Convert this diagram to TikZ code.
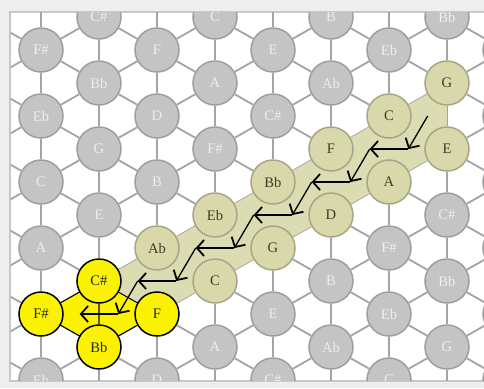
\documentclass[tikz,border=0pt]{standalone}
\usepackage{fontspec}
\setmainfont{Liberation Serif}
\usetikzlibrary{arrows.meta}

\definecolor{outerbg}{HTML}{EEEEEE}
\definecolor{frameline}{HTML}{C8C8C8}
\definecolor{latticeline}{HTML}{A4A4A4}
\definecolor{notefill}{HTML}{C4C4C4}
\definecolor{noteedge}{HTML}{9E9E9E}
\definecolor{notetext}{HTML}{EEEEEE}
\definecolor{chordfill}{HTML}{D8D8AA}
\definecolor{chordedge}{HTML}{A6A686}
\definecolor{chordtext}{HTML}{3C3C28}
\definecolor{bandfill}{HTML}{DCDCB3}
\definecolor{triadfill}{HTML}{FAF200}
\definecolor{triadline}{HTML}{5A5A20}

% pitch-class names, 0 = C
\newcommand\notename[1]{\ifcase#1 C\or C\#\or D\or Eb\or E\or F\or F\#\or G\or Ab\or A\or Bb\or B\fi}

% cells of the chord path and of the final triad
\expandafter\def\csname hl-7-2\endcsname{chord}
\expandafter\def\csname hl-6-3\endcsname{chord}
\expandafter\def\csname hl-7-4\endcsname{chord}
\expandafter\def\csname hl-5-4\endcsname{chord}
\expandafter\def\csname hl-6-5\endcsname{chord}
\expandafter\def\csname hl-4-5\endcsname{chord}
\expandafter\def\csname hl-5-6\endcsname{chord}
\expandafter\def\csname hl-3-6\endcsname{chord}
\expandafter\def\csname hl-4-7\endcsname{chord}
\expandafter\def\csname hl-2-7\endcsname{chord}
\expandafter\def\csname hl-3-8\endcsname{chord}
\expandafter\def\csname hl-1-8\endcsname{triad}
\expandafter\def\csname hl-0-9\endcsname{triad}
\expandafter\def\csname hl-2-9\endcsname{triad}
\expandafter\def\csname hl-1-10\endcsname{triad}

\pgfdeclarelayer{base}
\pgfdeclarelayer{edges}
\pgfdeclarelayer{band}
\pgfsetlayers{base,edges,band,main}

\tikzset{
  note/.style={circle, minimum size=22pt, inner sep=0pt, line width=0.75pt,
    font=\fontsize{7.3}{8}\selectfont},
  note-plain/.style={note, draw=noteedge, fill=notefill, text=notetext},
  note-chord/.style={note, draw=chordedge, fill=chordfill, text=chordtext},
  note-triad/.style={note, draw=black, fill=triadfill, text=black!85},
  lattice/.style={draw=latticeline, line width=0.9pt},
  move arrow/.style={draw=black, line width=0.65pt,
    -{Straight Barb[length=3.6pt,width=8pt,line width=0.9pt]}},
}

\begin{document}
\begin{tikzpicture}[x=0.5pt, y=-0.5pt]
\useasboundingbox (0,0) rectangle (484,388);

\begin{pgfonlayer}{base}
  \fill[outerbg] (0,0) rectangle (484,388);
  \draw[frameline, fill=white, line width=0.6pt] (10,12) rectangle (492,381);
\end{pgfonlayer}

% the notes of the lattice; notes centred outside the frame carry no label
\begin{scope}
  \clip (10.6,12.6) rectangle (484,380.4);
  \foreach \u in {-1,...,9}{
    \foreach \v in {-1,...,12}{
      \pgfmathtruncatemacro\parity{mod(\u+\v+40,2)}
      \ifnum\parity=1
        \pgfmathtruncatemacro\pc{mod((15+11*\u-3*\v)/2+120,12)}
        \pgfmathtruncatemacro\shown{(\u>-1)*(\u<8)*(\v>-1)*(\v<12)}
        \def\kind{plain}
        \ifcsname hl-\u-\v\endcsname \edef\kind{\csname hl-\u-\v\endcsname}\fi
        \tikzset{this note/.estyle={note-\kind}}
        \node[this note] (n\u-\v) at ({41+58*\u},{17+33*\v})
          {\ifnum\shown=1 \notename{\pc}\fi};
      \fi
    }
  }
\end{scope}

% lattice edges: minor thirds (vertical), major thirds and fifths (diagonal)
\begin{pgfonlayer}{edges}
  \begin{scope}
    \clip (10.6,12.6) rectangle (484,380.4);
    \foreach \u in {-1,...,9}{
      \foreach \v in {-1,...,12}{
        \pgfmathtruncatemacro\parity{mod(\u+\v+40,2)}
        \ifnum\parity=1
          \pgfmathtruncatemacro\un{\u+1}
          \pgfmathtruncatemacro\vd{\v+2}
          \pgfmathtruncatemacro\vp{\v+1}
          \pgfmathtruncatemacro\vm{\v-1}
          \ifnum\vd<13 \draw[lattice] (n\u-\v) -- (n\u-\vd); \fi
          \ifnum\un<10
            \ifnum\vp<13 \draw[lattice] (n\u-\v) -- (n\un-\vp); \fi
            \ifnum\vm>-2 \draw[lattice] (n\u-\v) -- (n\un-\vm); \fi
          \fi
        \fi
      }
    }
  \end{scope}
\end{pgfonlayer}

% the strip of the chord path and the final triad
\begin{pgfonlayer}{band}
  \fill[bandfill] (n7-2.center) -- (n7-4.center) -- (n2-9.center)
    -- (n1-8.center) -- cycle;
  \draw[fill=triadfill, line width=0.5pt] (n1-8.center) -- (n2-9.center)
    -- (n1-10.center) -- (n0-9.center) -- cycle;
  \draw[triadline, line width=0.8pt] (n1-8) -- (n1-10);
\end{pgfonlayer}

% triangle centres along the path
\coordinate (t1)  at (barycentric cs:n7-2=1,n6-3=1,n7-4=1);
\coordinate (t2)  at (barycentric cs:n6-3=1,n7-4=1,n6-5=1);
\coordinate (t3)  at (barycentric cs:n6-3=1,n5-4=1,n6-5=1);
\coordinate (t4)  at (barycentric cs:n5-4=1,n6-5=1,n5-6=1);
\coordinate (t5)  at (barycentric cs:n5-4=1,n4-5=1,n5-6=1);
\coordinate (t6)  at (barycentric cs:n4-5=1,n5-6=1,n4-7=1);
\coordinate (t7)  at (barycentric cs:n4-5=1,n3-6=1,n4-7=1);
\coordinate (t8)  at (barycentric cs:n3-6=1,n4-7=1,n3-8=1);
\coordinate (t9)  at (barycentric cs:n3-6=1,n2-7=1,n3-8=1);
\coordinate (t10) at (barycentric cs:n2-7=1,n3-8=1,n2-9=1);
\coordinate (t11) at (barycentric cs:n2-7=1,n1-8=1,n2-9=1);
\coordinate (t12) at (barycentric cs:n1-8=1,n2-9=1,n1-10=1);
\coordinate (t13) at (barycentric cs:n1-8=1,n0-9=1,n1-10=1);

\foreach \a/\b in {t1/t2,t2/t3,t3/t4,t4/t5,t5/t6,t6/t7,t7/t8,t8/t9,
                   t9/t10,t10/t11,t11/t12,t12/t13}{
  \draw[move arrow] (\a) -- (\b);
}
\end{tikzpicture}
\end{document}
